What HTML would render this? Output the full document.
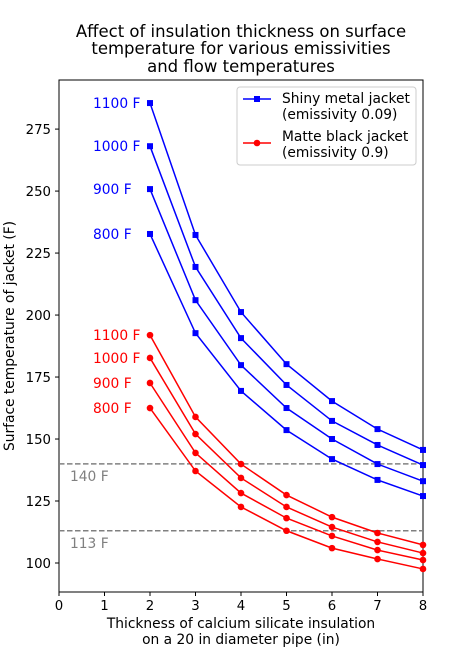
<!DOCTYPE html>
<html><head><meta charset="utf-8"><style>
body{margin:0;background:#fff;font-family:"DejaVu Sans",sans-serif}
</style></head><body>
<svg id="chart" width="470" height="666" xmlns="http://www.w3.org/2000/svg" font-family="DejaVu Sans, sans-serif">
<g font-size="16.5" text-anchor="middle" fill="#000">
<text x="241" y="37">Affect of insulation thickness on surface</text>
<text x="241" y="54">temperature for various emissivities</text>
<text x="241" y="72">and flow temperatures</text>
</g>
<g id="plot"></g>
<text x="241" y="633" font-size="13.8" text-anchor="middle" dy="-5">Thickness of calcium silicate insulation</text>
<text x="241" y="649" font-size="13.8" text-anchor="middle" dy="-5">on a 20 in diameter pipe (in)</text>
<text transform="translate(14,336) rotate(-90)" font-size="13.8" text-anchor="middle">Surface temperature of jacket (F)</text>
</svg>
<script>
const xVals=[2,3,4,5,6,7,8];
const flowLabels=["1100 F","1000 F","900 F","800 F"];
const shiny1100=[285.5,232.3,201.2,180.2,165.3,154,145.6];
const shiny1000=[268.1,219.4,190.7,171.8,157.3,147.6,139.5];
const shiny900=[250.8,206,179.8,162.5,150,139.9,133];
const shiny800=[232.7,192.7,169.4,153.6,141.9,133.5,127];
const matte1100=[191.9,158.9,139.9,127.4,118.5,112.1,107.3];
const matte1000=[182.7,152,134.3,122.6,114.5,108.5,104];
const matte900=[172.6,144.4,128.2,118.1,110.9,105.2,101.2];
const matte800=[162.5,137.1,122.6,113,106,101.6,97.6];
const xTicks=[0,1,2,3,4,5,6,7,8];
const yTicks=[100,125,150,175,200,225,250,275];
const refLines=[140,113];

const L=59,R=423,T=80,B=592,xMin=0,xMax=8,yMin=88.3,yMax=294.8;
const sx=v=>L+(v-xMin)/(xMax-xMin)*(R-L);
const sy=v=>B-(v-yMin)/(yMax-yMin)*(B-T);
const NS="http://www.w3.org/2000/svg";
const g=document.getElementById('plot');
function mk(t,a,p){const e=document.createElementNS(NS,t);for(const k in a)e.setAttribute(k,a[k]);(p||g).appendChild(e);return e;}

const frame=mk('rect',{x:L,y:T,width:R-L,height:B-T,fill:'none',stroke:'#000','stroke-width':1});



xTicks.forEach(v=>{
  const t=mk('line',{x1:sx(v),x2:sx(v),y1:B,y2:B+4,stroke:'#000'});
  
  
  const l=mk('text',{x:sx(v),y:B+18,'font-size':13.3,'text-anchor':'middle'});l.textContent=v;
  
  
});
yTicks.forEach(v=>{
  const t=mk('line',{x1:L-4,x2:L,y1:sy(v),y2:sy(v),stroke:'#000'});
  
  
  const l=mk('text',{x:L-8,y:sy(v)+5,'font-size':13.3,'text-anchor':'end'});l.textContent=v;
  
  
});
refLines.forEach(v=>{
  const ln=mk('line',{x1:L,x2:R,y1:sy(v),y2:sy(v),stroke:'#808080','stroke-width':1.5,'stroke-dasharray':'5.5,2.5'});
  
  
  const l=mk('text',{x:70,y:sy(v)+17,'font-size':13.8,fill:'#808080'});l.textContent=v+' F';
  
  
});
function series(vals,color,marker,name,label){
  const pts=xVals.map((x,i)=>sx(x)+','+sy(vals[i])).join(' ');
  const pl=mk('polyline',{points:pts,fill:'none',stroke:color,'stroke-width':1.5});
  
  
  xVals.forEach((x,i)=>{
    let m;
    if(marker==='s') m=mk('rect',{x:sx(x)-3,y:sy(vals[i])-3,width:6,height:6,fill:color});
    else m=mk('circle',{cx:sx(x),cy:sy(vals[i]),r:3.3,fill:color});
    
    
  });
  const t=mk('text',{x:93,y:sy(vals[0])+5,'font-size':13.8,fill:color});t.textContent=label;
  
  
}
[shiny1100,shiny1000,shiny900,shiny800].forEach((s,i)=>series(s,'#0000ff','s','shiny-'+flowLabels[i].split(' ')[0],flowLabels[i]));
[matte1100,matte1000,matte900,matte800].forEach((s,i)=>series(s,'#ff0000','o','matte-'+flowLabels[i].split(' ')[0],flowLabels[i]));

const lg=mk('g',{});


mk('rect',{x:237,y:87,width:179,height:78,rx:3,fill:'#fff',stroke:'#ccc'},lg);
mk('line',{x1:243,x2:271,y1:99,y2:99,stroke:'#0000ff','stroke-width':1.5},lg);
mk('rect',{x:254,y:96,width:6,height:6,fill:'#0000ff'},lg);
let t1=mk('text',{x:282,y:103,'font-size':13.8},lg);t1.textContent='Shiny metal jacket';


mk('text',{x:282,y:119,'font-size':13.8},lg).textContent='(emissivity 0.09)';
mk('line',{x1:243,x2:271,y1:143,y2:143,stroke:'#ff0000','stroke-width':1.5},lg);
mk('circle',{cx:257,cy:143,r:3.3,fill:'#ff0000'},lg);
let t2=mk('text',{x:282,y:141,'font-size':13.8},lg);t2.textContent='Matte black jacket';


mk('text',{x:282,y:157,'font-size':13.8},lg).textContent='(emissivity 0.9)';
</script>
</body></html>
